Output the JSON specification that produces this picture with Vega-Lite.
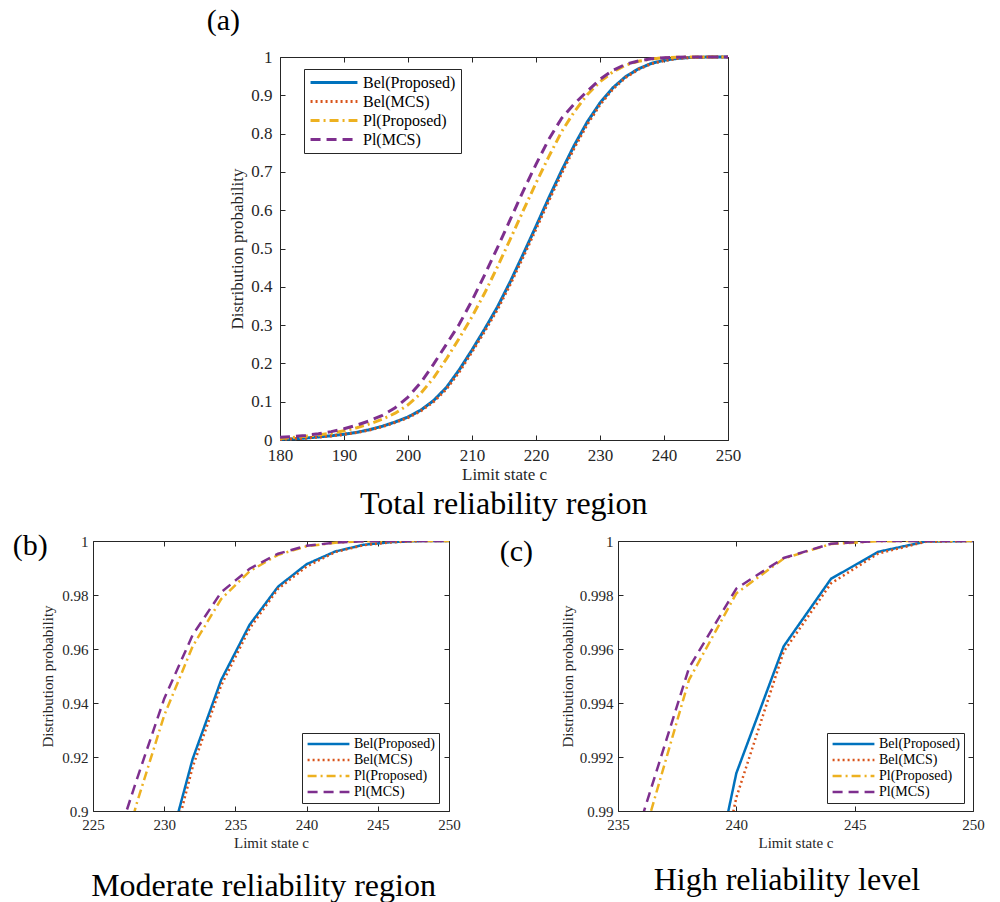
{
  "$schema": "https://vega.github.io/schema/vega-lite/v6.json",
  "background": "white",
  "padding": {"left": 12, "top": 5, "right": 5, "bottom": 5},
  "config": {
    "font": "Liberation Serif",
    "view": {"stroke": "#262626", "strokeWidth": 1},
    "axis": {"grid": false, "domain": false, "tickSize": -5, "tickColor": "#262626", "labelColor": "#262626", "titleColor": "#262626", "titleFontWeight": "normal", "labelFlush": false, "labelOverlap": false, "tickWidth": 1, "labelPadding": 6},
    "legend": {"strokeColor": "#262626", "fillColor": "white", "symbolType": "stroke", "labelColor": "#000000", "titleColor": "#000"},
    "title": {"fontWeight": "normal", "color": "#000000"}
  },
  "datasets": {
    "cdf": [
      {"c":180,"s":"Bel(Proposed)","p":0.002},{"c":182,"s":"Bel(Proposed)","p":0.003},{"c":184,"s":"Bel(Proposed)","p":0.005},{"c":186,"s":"Bel(Proposed)","p":0.008},{"c":188,"s":"Bel(Proposed)","p":0.011},{"c":190,"s":"Bel(Proposed)","p":0.015},{"c":192,"s":"Bel(Proposed)","p":0.020},{"c":194,"s":"Bel(Proposed)","p":0.027},{"c":196,"s":"Bel(Proposed)","p":0.036},{"c":198,"s":"Bel(Proposed)","p":0.047},{"c":200,"s":"Bel(Proposed)","p":0.060},{"c":202,"s":"Bel(Proposed)","p":0.078},{"c":204,"s":"Bel(Proposed)","p":0.103},{"c":206,"s":"Bel(Proposed)","p":0.137},{"c":208,"s":"Bel(Proposed)","p":0.183},{"c":210,"s":"Bel(Proposed)","p":0.235},{"c":212,"s":"Bel(Proposed)","p":0.290},{"c":214,"s":"Bel(Proposed)","p":0.348},{"c":216,"s":"Bel(Proposed)","p":0.414},{"c":218,"s":"Bel(Proposed)","p":0.485},{"c":220,"s":"Bel(Proposed)","p":0.558},{"c":222,"s":"Bel(Proposed)","p":0.632},{"c":224,"s":"Bel(Proposed)","p":0.703},{"c":226,"s":"Bel(Proposed)","p":0.770},{"c":228,"s":"Bel(Proposed)","p":0.830},{"c":230,"s":"Bel(Proposed)","p":0.880},{"c":232,"s":"Bel(Proposed)","p":0.9193},{"c":234,"s":"Bel(Proposed)","p":0.9485},{"c":236,"s":"Bel(Proposed)","p":0.969},{"c":238,"s":"Bel(Proposed)","p":0.9831},{"c":240,"s":"Bel(Proposed)","p":0.9914},{"c":242,"s":"Bel(Proposed)","p":0.9961},{"c":244,"s":"Bel(Proposed)","p":0.9986},{"c":246,"s":"Bel(Proposed)","p":0.9996},{"c":248,"s":"Bel(Proposed)","p":0.99998},{"c":250,"s":"Bel(Proposed)","p":1},
      {"c":180,"s":"Bel(MCS)","p":0.002},{"c":182,"s":"Bel(MCS)","p":0.003},{"c":184,"s":"Bel(MCS)","p":0.0048},{"c":186,"s":"Bel(MCS)","p":0.0077},{"c":188,"s":"Bel(MCS)","p":0.0106},{"c":190,"s":"Bel(MCS)","p":0.0145},{"c":192,"s":"Bel(MCS)","p":0.0194},{"c":194,"s":"Bel(MCS)","p":0.0262},{"c":196,"s":"Bel(MCS)","p":0.035},{"c":198,"s":"Bel(MCS)","p":0.0458},{"c":200,"s":"Bel(MCS)","p":0.0585},{"c":202,"s":"Bel(MCS)","p":0.076},{"c":204,"s":"Bel(MCS)","p":0.1},{"c":206,"s":"Bel(MCS)","p":0.133},{"c":208,"s":"Bel(MCS)","p":0.178},{"c":210,"s":"Bel(MCS)","p":0.23},{"c":212,"s":"Bel(MCS)","p":0.2845},{"c":214,"s":"Bel(MCS)","p":0.3415},{"c":216,"s":"Bel(MCS)","p":0.4075},{"c":218,"s":"Bel(MCS)","p":0.478},{"c":220,"s":"Bel(MCS)","p":0.551},{"c":222,"s":"Bel(MCS)","p":0.625},{"c":224,"s":"Bel(MCS)","p":0.696},{"c":226,"s":"Bel(MCS)","p":0.7635},{"c":228,"s":"Bel(MCS)","p":0.824},{"c":230,"s":"Bel(MCS)","p":0.8755},{"c":232,"s":"Bel(MCS)","p":0.9163},{"c":234,"s":"Bel(MCS)","p":0.9465},{"c":236,"s":"Bel(MCS)","p":0.9676},{"c":238,"s":"Bel(MCS)","p":0.9823},{"c":240,"s":"Bel(MCS)","p":0.9905},{"c":242,"s":"Bel(MCS)","p":0.9959},{"c":244,"s":"Bel(MCS)","p":0.99843},{"c":246,"s":"Bel(MCS)","p":0.99954},{"c":248,"s":"Bel(MCS)","p":0.99997},{"c":250,"s":"Bel(MCS)","p":1},
      {"c":180,"s":"Pl(Proposed)","p":0.004},{"c":182,"s":"Pl(Proposed)","p":0.0067},{"c":184,"s":"Pl(Proposed)","p":0.0097},{"c":186,"s":"Pl(Proposed)","p":0.0132},{"c":188,"s":"Pl(Proposed)","p":0.0178},{"c":190,"s":"Pl(Proposed)","p":0.0239},{"c":192,"s":"Pl(Proposed)","p":0.032},{"c":194,"s":"Pl(Proposed)","p":0.042},{"c":196,"s":"Pl(Proposed)","p":0.0542},{"c":198,"s":"Pl(Proposed)","p":0.0699},{"c":200,"s":"Pl(Proposed)","p":0.0918},{"c":202,"s":"Pl(Proposed)","p":0.1217},{"c":204,"s":"Pl(Proposed)","p":0.1623},{"c":206,"s":"Pl(Proposed)","p":0.2116},{"c":208,"s":"Pl(Proposed)","p":0.2653},{"c":210,"s":"Pl(Proposed)","p":0.3219},{"c":212,"s":"Pl(Proposed)","p":0.3843},{"c":214,"s":"Pl(Proposed)","p":0.453},{"c":216,"s":"Pl(Proposed)","p":0.5252},{"c":218,"s":"Pl(Proposed)","p":0.5987},{"c":220,"s":"Pl(Proposed)","p":0.671},{"c":222,"s":"Pl(Proposed)","p":0.7399},{"c":224,"s":"Pl(Proposed)","p":0.805},{"c":226,"s":"Pl(Proposed)","p":0.8575},{"c":228,"s":"Pl(Proposed)","p":0.9016},{"c":230,"s":"Pl(Proposed)","p":0.9354},{"c":232,"s":"Pl(Proposed)","p":0.961},{"c":234,"s":"Pl(Proposed)","p":0.9785},{"c":236,"s":"Pl(Proposed)","p":0.9888},{"c":238,"s":"Pl(Proposed)","p":0.99486},{"c":240,"s":"Pl(Proposed)","p":0.99806},{"c":242,"s":"Pl(Proposed)","p":0.99935},{"c":244,"s":"Pl(Proposed)","p":0.99989},{"c":246,"s":"Pl(Proposed)","p":0.99999},{"c":248,"s":"Pl(Proposed)","p":1},{"c":250,"s":"Pl(Proposed)","p":1},
      {"c":180,"s":"Pl(MCS)","p":0.007},{"c":182,"s":"Pl(MCS)","p":0.0088},{"c":184,"s":"Pl(MCS)","p":0.012},{"c":186,"s":"Pl(MCS)","p":0.0163},{"c":188,"s":"Pl(MCS)","p":0.0218},{"c":190,"s":"Pl(MCS)","p":0.0293},{"c":192,"s":"Pl(MCS)","p":0.0388},{"c":194,"s":"Pl(MCS)","p":0.0503},{"c":196,"s":"Pl(MCS)","p":0.0645},{"c":198,"s":"Pl(MCS)","p":0.0843},{"c":200,"s":"Pl(MCS)","p":0.112},{"c":202,"s":"Pl(MCS)","p":0.150},{"c":204,"s":"Pl(MCS)","p":0.198},{"c":206,"s":"Pl(MCS)","p":0.250},{"c":208,"s":"Pl(MCS)","p":0.302},{"c":210,"s":"Pl(MCS)","p":0.364},{"c":212,"s":"Pl(MCS)","p":0.432},{"c":214,"s":"Pl(MCS)","p":0.503},{"c":216,"s":"Pl(MCS)","p":0.5765},{"c":218,"s":"Pl(MCS)","p":0.650},{"c":220,"s":"Pl(MCS)","p":0.7198},{"c":222,"s":"Pl(MCS)","p":0.785},{"c":224,"s":"Pl(MCS)","p":0.840},{"c":226,"s":"Pl(MCS)","p":0.878},{"c":228,"s":"Pl(MCS)","p":0.9105},{"c":230,"s":"Pl(MCS)","p":0.9416},{"c":232,"s":"Pl(MCS)","p":0.9652},{"c":234,"s":"Pl(MCS)","p":0.981},{"c":236,"s":"Pl(MCS)","p":0.98972},{"c":238,"s":"Pl(MCS)","p":0.9953},{"c":240,"s":"Pl(MCS)","p":0.99824},{"c":242,"s":"Pl(MCS)","p":0.99937},{"c":244,"s":"Pl(MCS)","p":0.9999},{"c":246,"s":"Pl(MCS)","p":1},{"c":248,"s":"Pl(MCS)","p":1},{"c":250,"s":"Pl(MCS)","p":1}
    ]
  },
  "resolve": {"scale": {"color": "independent", "strokeDash": "independent"}},
  "spacing": 10,
  "vconcat": [
    {
      "spacing": 0,
      "resolve": {"scale": {"color": "independent", "strokeDash": "independent"}},
      "hconcat": [
        {"width": 113, "height": 1, "data": {"values": []}, "mark": "point", "view": {"stroke": null}},
        {
          "title": {"text": "Total reliability region", "orient": "bottom", "anchor": "middle", "fontSize": 32, "offset": 6, "dx": 30},
          "resolve": {"scale": {"color": "independent", "strokeDash": "independent"}},
          "vconcat": [
            {
              "width": 448, "height": 383,
              "title": {"text": "(a)", "orient": "top", "anchor": "start", "frame": "bounds", "fontSize": 30, "offset": 12, "dx": -22},
              "data": {"name": "cdf"},
              "resolve": {"axis": {"x": "independent", "y": "independent"}},
              "layer": [
                {
                  "mark": {"type": "line", "strokeWidth": 3},
                  "encoding": {
                    "x": {"field": "c", "type": "quantitative", "scale": {"domain": [180, 250], "nice": false, "zero": false}, "axis": {"values": [180,190,200,210,220,230,240,250], "title": "Limit state  c", "labelFontSize": 17, "titleFontSize": 17, "titlePadding": 3, "labelPadding": 12}},
                    "y": {"field": "p", "type": "quantitative", "scale": {"domain": [0, 1], "nice": false}, "axis": {"values": [0,0.1,0.2,0.3,0.4,0.5,0.6,0.7,0.8,0.9,1], "format": "~g", "title": "Distribution probability", "labelFontSize": 17, "titleFontSize": 17, "titlePadding": 4, "labelPadding": 13}},
                    "color": {"field": "s", "type": "nominal", "scale": {"domain": ["Bel(Proposed)", "Bel(MCS)", "Pl(Proposed)", "Pl(MCS)"], "range": ["#0072BD", "#D95319", "#EDB120", "#7E2F8E"]}, "legend": {"title": null, "orient": "none", "legendX": 24, "legendY": 12, "labelFontSize": 16, "symbolSize": 2200, "symbolStrokeWidth": 3, "clipHeight": 17, "rowPadding": 2, "padding": 5, "labelOffset": 4}},
                    "strokeDash": {"field": "s", "type": "nominal", "scale": {"domain": ["Bel(Proposed)", "Bel(MCS)", "Pl(Proposed)", "Pl(MCS)"], "range": [[1, 0], [2, 3], [9, 4, 2, 4], [10, 6]]}, "legend": {"title": null, "orient": "none", "legendX": 24, "legendY": 12, "labelFontSize": 16, "symbolSize": 2200, "symbolStrokeWidth": 3, "clipHeight": 17, "rowPadding": 2, "padding": 5, "labelOffset": 4}}
                  }
                },
                {
                  "mark": {"type": "line", "opacity": 0},
                  "encoding": {
                    "x": {"field": "c", "type": "quantitative", "axis": {"orient": "top", "labels": false, "title": null, "values": [180,190,200,210,220,230,240,250]}},
                    "y": {"field": "p", "type": "quantitative", "axis": {"orient": "right", "labels": false, "title": null, "values": [0,0.1,0.2,0.3,0.4,0.5,0.6,0.7,0.8,0.9,1]}},
                    "detail": {"field": "s"}
                  }
                }
              ]
            }
          ]
        }
      ]
    },
    {
      "spacing": 38,
      "resolve": {"scale": {"color": "independent", "strokeDash": "independent"}},
      "hconcat": [
        {
          "title": {"text": "Moderate reliability region", "orient": "bottom", "anchor": "middle", "fontSize": 32, "offset": 20, "dx": 27},
          "resolve": {"scale": {"color": "independent", "strokeDash": "independent"}},
          "vconcat": [
            {
              "width": 356, "height": 270,
              "title": {"text": "(b)", "orient": "left", "anchor": "end", "angle": 0, "baseline": "top", "align": "right", "fontSize": 30, "offset": -3, "dy": -3, "dx": 39},
              "data": {"name": "cdf"},
              "resolve": {"axis": {"x": "independent", "y": "independent"}},
              "layer": [
                {
                  "mark": {"type": "line", "strokeWidth": 2.5, "clip": true},
                  "encoding": {
                    "x": {"field": "c", "type": "quantitative", "scale": {"domain": [225, 250], "nice": false, "zero": false}, "axis": {"values": [225,230,235,240,245,250], "title": "Limit state  c", "labelFontSize": 15, "titleFontSize": 15, "titlePadding": 3, "labelPadding": 11}},
                    "y": {"field": "p", "type": "quantitative", "scale": {"domain": [0.9, 1], "nice": false, "zero": false}, "axis": {"values": [0.9,0.92,0.94,0.96,0.98,1], "format": "~g", "title": "Distribution probability", "labelFontSize": 15, "titleFontSize": 15, "titlePadding": 6, "labelPadding": 10}},
                    "color": {"field": "s", "type": "nominal", "scale": {"domain": ["Bel(Proposed)", "Bel(MCS)", "Pl(Proposed)", "Pl(MCS)"], "range": ["#0072BD", "#D95319", "#EDB120", "#7E2F8E"]}, "legend": {"title": null, "orient": "none", "legendX": 209, "legendY": 192, "labelFontSize": 14, "symbolSize": 1750, "symbolStrokeWidth": 2.5, "clipHeight": 14, "rowPadding": 2, "padding": 4, "labelOffset": 3}},
                    "strokeDash": {"field": "s", "type": "nominal", "scale": {"domain": ["Bel(Proposed)", "Bel(MCS)", "Pl(Proposed)", "Pl(MCS)"], "range": [[1, 0], [2, 3], [9, 4, 2, 4], [10, 6]]}, "legend": {"title": null, "orient": "none", "legendX": 209, "legendY": 192, "labelFontSize": 14, "symbolSize": 1750, "symbolStrokeWidth": 2.5, "clipHeight": 14, "rowPadding": 2, "padding": 4, "labelOffset": 3}}
                  }
                },
                {
                  "mark": {"type": "line", "opacity": 0, "clip": true},
                  "encoding": {
                    "x": {"field": "c", "type": "quantitative", "axis": {"orient": "top", "labels": false, "title": null, "values": [225,230,235,240,245,250]}},
                    "y": {"field": "p", "type": "quantitative", "axis": {"orient": "right", "labels": false, "title": null, "values": [0.9,0.92,0.94,0.96,0.98,1]}},
                    "detail": {"field": "s"}
                  }
                }
              ]
            }
          ]
        },
        {
          "title": {"text": "High reliability level", "orient": "bottom", "anchor": "middle", "fontSize": 32, "offset": 14, "dx": 45},
          "resolve": {"scale": {"color": "independent", "strokeDash": "independent"}},
          "vconcat": [
            {
              "width": 355, "height": 270,
              "title": {"text": "(c)", "orient": "left", "anchor": "end", "angle": 0, "baseline": "top", "align": "right", "fontSize": 30, "offset": 29, "dy": 3, "dx": 35},
              "data": {"name": "cdf"},
              "resolve": {"axis": {"x": "independent", "y": "independent"}},
              "layer": [
                {
                  "mark": {"type": "line", "strokeWidth": 2.5, "clip": true},
                  "encoding": {
                    "x": {"field": "c", "type": "quantitative", "scale": {"domain": [235, 250], "nice": false, "zero": false}, "axis": {"values": [235,240,245,250], "title": "Limit state  c", "labelFontSize": 15, "titleFontSize": 15, "titlePadding": 3, "labelPadding": 11}},
                    "y": {"field": "p", "type": "quantitative", "scale": {"domain": [0.99, 1], "nice": false, "zero": false}, "axis": {"values": [0.99,0.992,0.994,0.996,0.998,1], "format": "~g", "title": "Distribution probability", "labelFontSize": 15, "titleFontSize": 15, "titlePadding": 4, "labelPadding": 10}},
                    "color": {"field": "s", "type": "nominal", "scale": {"domain": ["Bel(Proposed)", "Bel(MCS)", "Pl(Proposed)", "Pl(MCS)"], "range": ["#0072BD", "#D95319", "#EDB120", "#7E2F8E"]}, "legend": {"title": null, "orient": "none", "legendX": 209, "legendY": 192, "labelFontSize": 14, "symbolSize": 1750, "symbolStrokeWidth": 2.5, "clipHeight": 14, "rowPadding": 2, "padding": 4, "labelOffset": 3}},
                    "strokeDash": {"field": "s", "type": "nominal", "scale": {"domain": ["Bel(Proposed)", "Bel(MCS)", "Pl(Proposed)", "Pl(MCS)"], "range": [[1, 0], [2, 3], [9, 4, 2, 4], [10, 6]]}, "legend": {"title": null, "orient": "none", "legendX": 209, "legendY": 192, "labelFontSize": 14, "symbolSize": 1750, "symbolStrokeWidth": 2.5, "clipHeight": 14, "rowPadding": 2, "padding": 4, "labelOffset": 3}}
                  }
                },
                {
                  "mark": {"type": "line", "opacity": 0, "clip": true},
                  "encoding": {
                    "x": {"field": "c", "type": "quantitative", "axis": {"orient": "top", "labels": false, "title": null, "values": [235,240,245,250]}},
                    "y": {"field": "p", "type": "quantitative", "axis": {"orient": "right", "labels": false, "title": null, "values": [0.99,0.992,0.994,0.996,0.998,1]}},
                    "detail": {"field": "s"}
                  }
                }
              ]
            }
          ]
        }
      ]
    }
  ]
}
